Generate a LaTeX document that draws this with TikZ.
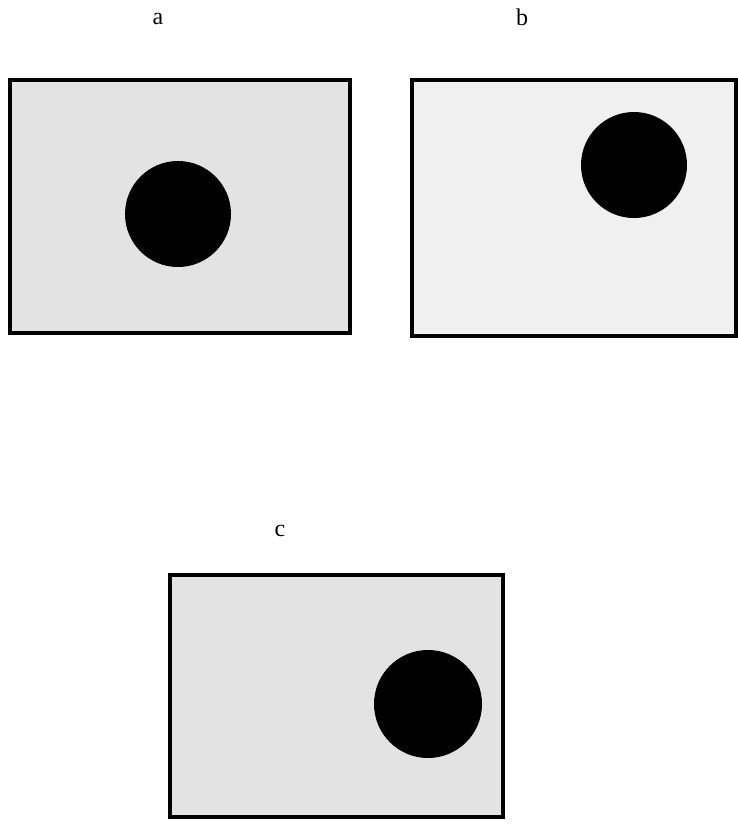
\documentclass[tikz,border=0pt]{standalone}
\usepackage{fontspec}
\setmainfont{Liberation Serif}
\usepackage{tikz}
\usetikzlibrary{positioning}

\begin{document}
\begin{tikzpicture}[
            x=1pt, y=-1pt,
            panel/.style={draw, line width=4pt, fill=gray!22, inner sep=0pt, outer sep=0pt},
            lightpanel/.style={panel, fill=gray!12},
            spot/.style={circle, fill=black, inner sep=0pt, outer sep=0pt},
            tag/.style={font=\fontsize{24}{28}\selectfont}
        ]
        \useasboundingbox (0,0) rectangle (738,828);

        % --- PANNEAUX ---
        \node[panel, minimum width=340pt, minimum height=253pt] (A) at (180, 206.5) {};
        \node[lightpanel, minimum width=324pt, minimum height=256pt] (B) at (574, 208) {};
        \node[panel, minimum width=333pt, minimum height=242pt] (C) at (336.5, 696) {};

        % --- TACHES ---
        \node[spot, minimum size=106pt] (dotA) at (178, 214) {};
        \node[spot, minimum size=106pt] (dotB) at (634, 165) {};
        \node[spot, minimum size=108pt] (dotC) at (428, 704) {};

        % --- LABELS ---
        \node[tag] (labA) at (158, 19) {a};
        \node[tag] (labB) at (522, 17) {b};
        \node[tag] (labC) at (280, 531) {c};

    \end{tikzpicture}
\end{document}
